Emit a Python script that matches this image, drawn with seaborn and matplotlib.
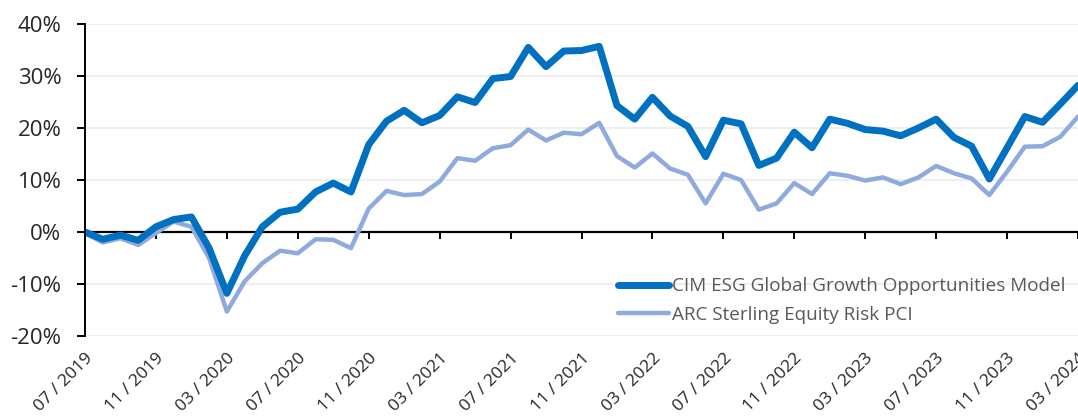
import pandas as pd
import numpy as np
import matplotlib
matplotlib.use("Agg")
import matplotlib.pyplot as plt
import seaborn as sns
from matplotlib.ticker import PercentFormatter

# Data (monthly cumulative return, %)
months = pd.date_range("2019-07-01", periods=57, freq="MS")
cim = [
    0.0, -1.4, -0.6, -1.6, 1.0, 2.4, 2.9, -3.1, -11.8, -4.6,
    1.0, 3.8, 4.4, 7.7, 9.4, 7.7, 16.8, 21.3, 23.4, 21.0,
    22.4, 26.0, 24.9, 29.5, 29.9, 35.5, 31.8, 34.8, 34.9, 35.7,
    24.3, 21.7, 25.9, 22.3, 20.3, 14.5, 21.5, 20.8, 12.8, 14.2,
    19.2, 16.2, 21.7, 20.9, 19.7, 19.4, 18.5, 20.0, 21.7, 18.2,
    16.5, 10.2, 16.2, 22.2, 21.1, 24.6, 28.2,
]
arc = [
    -0.2, -2.0, -1.2, -2.5, -0.2, 2.0, 1.0, -5.0, -15.3, -9.5,
    -6.0, -3.6, -4.1, -1.4, -1.5, -3.1, 4.5, 7.9, 7.1, 7.3,
    9.7, 14.2, 13.7, 16.1, 16.7, 19.7, 17.6, 19.1, 18.8, 21.0,
    14.6, 12.4, 15.1, 12.2, 11.0, 5.5, 11.2, 10.0, 4.3, 5.5,
    9.4, 7.3, 11.3, 10.8, 9.9, 10.5, 9.2, 10.5, 12.7, 11.3,
    10.3, 7.1, 11.6, 16.4, 16.5, 18.3, 22.2,
]
tick_labels = [
    "07 / 2019", "11 / 2019", "03 / 2020", "07 / 2020", "11 / 2020",
    "03 / 2021", "07 / 2021", "11 / 2021", "03 / 2022", "07 / 2022",
    "11 / 2022", "03 / 2023", "07 / 2023", "11 / 2023", "03 / 2024",
]
cim_name = "CIM ESG Global Growth Opportunities Model"
arc_name = "ARC Sterling Equity Risk PCI"

df = pd.DataFrame({
    "idx": np.arange(len(months)),
    "month": months,
    cim_name: cim,
    arc_name: arc,
})

sns.set_style("white")
plt.rcParams["font.family"] = ["Open Sans", "DejaVu Sans"]
plt.rcParams["axes.unicode_minus"] = False

fig = plt.figure(figsize=(10.78, 4.16), dpi=100)
ax = fig.add_axes([85 / 1078, 80 / 416, 993 / 1078, 312 / 416])

sns.lineplot(data=df, x="idx", y=arc_name, color="#8FAADC",
             linewidth=3.2, label=arc_name, ax=ax)
sns.lineplot(data=df, x="idx", y=cim_name, color="#0070C0",
             linewidth=5.0, label=cim_name, ax=ax)

ax.set_xlim(0, len(months) - 1)
ax.set_ylim(-20, 40)
ax.set_yticks(range(-20, 41, 10))
ax.yaxis.set_major_formatter(PercentFormatter(decimals=0))
ax.grid(axis="y", color="#EBEBEB", linewidth=1.2)
ax.set_axisbelow(True)
ax.set_xlabel("")
ax.set_ylabel("")

for s in ["top", "right"]:
    ax.spines[s].set_visible(False)
ax.spines["left"].set_color("black")
ax.spines["left"].set_linewidth(1.4)
ax.spines["bottom"].set_position(("data", 0))
ax.spines["bottom"].set_color("black")
ax.spines["bottom"].set_linewidth(1.6)
ax.spines["bottom"].set_zorder(1)

tick_pos = df["idx"].values[::4]
ax.set_xticks(tick_pos)
ax.set_xticklabels([])
ax.tick_params(axis="x", bottom=True, direction="out", length=5,
               width=1.4, color="black")
ax.tick_params(axis="y", left=True, direction="out", length=6,
               width=1.4, color="black", labelsize=16,
               labelcolor="#262626", pad=11)

# labels sit under the plot area, not at the zero line
sec = ax.secondary_xaxis(0)
sec.set_xticks(tick_pos)
sec.set_xticklabels(tick_labels, rotation=45, ha="right",
                    rotation_mode="anchor", fontsize=12.6, color="#262626")
sec.tick_params(length=0, pad=10)
sec.spines["bottom"].set_visible(False)

handles, labels = ax.get_legend_handles_labels()
leg = ax.legend(handles[::-1], labels[::-1], loc="lower left",
                bbox_to_anchor=(0.52, -0.015), frameon=False,
                fontsize=13.6, handlelength=2.7, handletextpad=0.15,
                labelspacing=0.55, labelcolor="#595959")

plt.savefig("out.png", dpi=100)
